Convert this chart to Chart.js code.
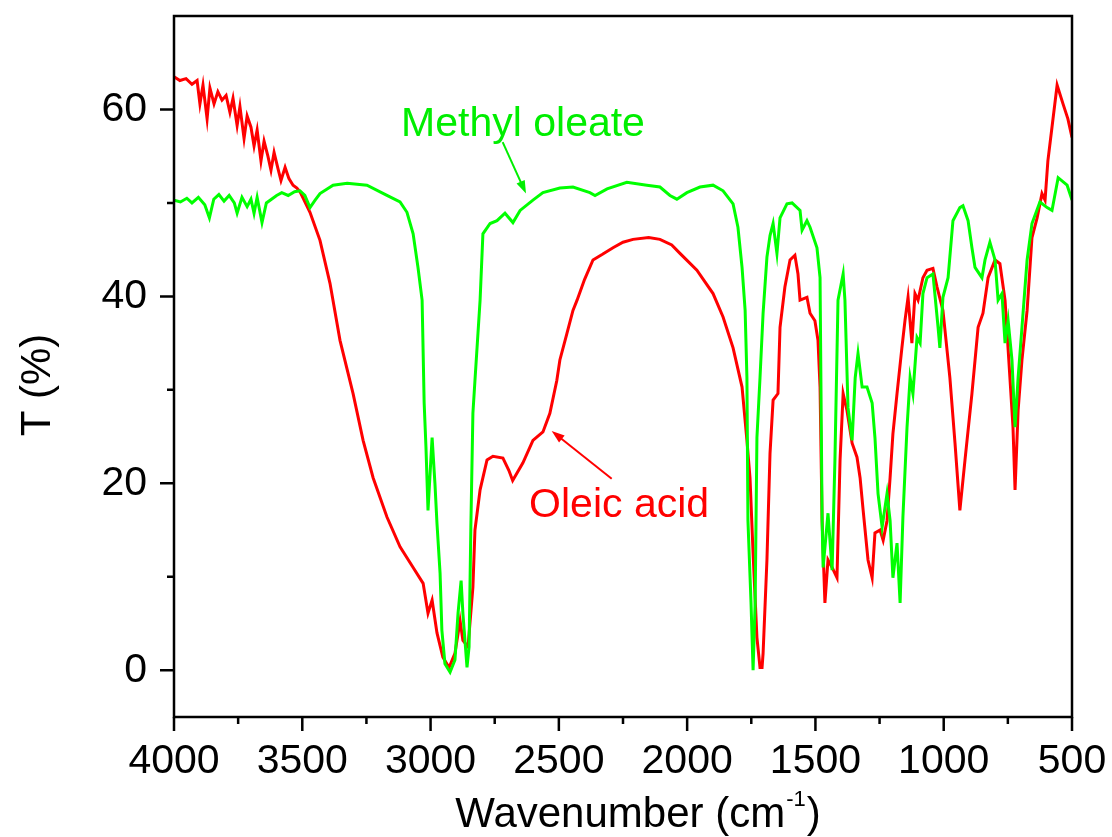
<!DOCTYPE html>
<html>
<head>
<meta charset="utf-8">
<script src="https://cdn.jsdelivr.net/npm/chart.js@4.4.1/dist/chart.umd.min.js"></script>
<style>
  html, body { margin: 0; padding: 0; background: #fff; }
</style>
</head>
<body>
<canvas id="ftirChart" width="1112" height="837"></canvas>
<script>
// axis ticks
const xTicks = [4000, 3500, 3000, 2500, 2000, 1500, 1000, 500];
const xMinorTicks = [3750, 3250, 2750, 2250, 1750, 1250, 750];
const yTicks = [0, 20, 40, 60];
const yMinorTicks = [10, 30, 50];

// Oleic acid (red)
const oleicWavenumber = [4000, 3977, 3953, 3930, 3910, 3899, 3887, 3871, 3860, 3844, 3829, 3813, 3797, 3782, 3770, 3754, 3743, 3727, 3715, 3700,
  3688, 3676, 3661, 3649, 3634, 3622, 3610, 3595, 3583, 3567, 3552, 3536, 3521, 3509, 3470, 3431, 3392, 3353, 3302, 3263,
  3224, 3170, 3119, 3068, 3029, 3010, 2994, 2975, 2952, 2928, 2905, 2885, 2874, 2854, 2835, 2827, 2807, 2780, 2757, 2718,
  2695, 2680, 2640, 2601, 2562, 2535, 2508, 2496, 2469, 2445, 2429, 2400, 2367, 2330, 2289, 2250, 2211, 2150, 2106, 2060,
  2028, 1962, 1899, 1860, 1821, 1786, 1767, 1755, 1743, 1728, 1716, 1708, 1704, 1689, 1677, 1665, 1646, 1638, 1619, 1599,
  1580, 1568, 1560, 1533, 1521, 1502, 1490, 1482, 1474, 1463, 1451, 1435, 1416, 1404, 1392, 1377, 1357, 1338, 1326, 1314,
  1295, 1279, 1268, 1248, 1236, 1221, 1209, 1198, 1182, 1163, 1151, 1139, 1124, 1112, 1100, 1081, 1065, 1042, 1026, 1003,
  976, 956, 937, 917, 890, 866, 847, 827, 800, 781, 761, 742, 730, 722, 710, 695, 675, 656, 636, 617,
  605, 594, 578, 558, 535, 516, 500];
const oleicT = [63.5, 63.1, 63.3, 62.7, 63.1, 60.6, 62.6, 59.0, 62.3, 60.6, 61.9, 61.0, 61.5, 59.7, 61.2, 58.3, 60.3, 56.9, 59.3, 58.1,
  56.1, 57.8, 54.5, 56.6, 55.0, 53.5, 55.4, 53.7, 52.4, 53.8, 52.6, 51.9, 51.6, 51.2, 49.0, 46.0, 41.4, 35.3, 29.6, 24.6,
  20.6, 16.4, 13.2, 11.0, 9.3, 6.1, 7.5, 4.0, 1.4, 0.3, 1.8, 5.3, 3.2, 2.5, 8.9, 15.0, 19.3, 22.5, 22.9, 22.7,
  21.4, 20.3, 22.2, 24.6, 25.5, 27.5, 31.0, 33.2, 36.0, 38.5, 39.6, 41.8, 43.9, 44.5, 45.2, 45.8, 46.1, 46.3, 46.1, 45.5,
  44.6, 42.8, 40.3, 37.8, 34.5, 30.3, 24.6, 20.6, 12.5, 3.5, 0.3, 0.3, 1.8, 11.8, 23.2, 28.9, 29.6, 36.7, 41.0, 43.9,
  44.4, 42.4, 39.6, 39.9, 38.2, 37.4, 35.3, 30.3, 16.0, 7.2, 11.8, 11.0, 9.9, 22.5, 29.6, 27.8, 24.3, 22.8, 20.6, 17.1,
  11.8, 9.9, 14.7, 15.0, 13.9, 16.0, 20.6, 25.3, 29.6, 34.5, 37.4, 39.9, 35.0, 40.3, 39.6, 42.0, 42.8, 43.0, 41.0, 38.5,
  31.3, 24.3, 17.1, 22.5, 29.6, 36.7, 38.2, 42.0, 43.9, 43.5, 39.6, 31.3, 26.0, 19.3, 27.8, 33.2, 38.5, 46.3, 48.4, 51.0,
  50.3, 54.5, 58.1, 62.6, 60.6, 59.0, 57.0];

// Methyl oleate (green)
const methylWavenumber = [4000, 3975, 3950, 3930, 3905, 3880, 3862, 3845, 3825, 3805, 3785, 3765, 3754, 3735, 3715, 3700, 3688, 3676, 3657, 3640,
  3620, 3600, 3580, 3555, 3530, 3509, 3490, 3470, 3450, 3431, 3380, 3325, 3248, 3170, 3119, 3092, 3068, 3049, 3033, 3025,
  3018, 3010, 2994, 2983, 2975, 2963, 2956, 2944, 2924, 2905, 2893, 2881, 2874, 2858, 2850, 2843, 2835, 2827, 2807, 2796,
  2768, 2741, 2710, 2679, 2651, 2601, 2562, 2496, 2445, 2379, 2359, 2312, 2235, 2157, 2106, 2067, 2040, 2001, 1950, 1899,
  1860, 1821, 1802, 1786, 1774, 1767, 1763, 1751, 1743, 1735, 1728, 1716, 1704, 1689, 1677, 1665, 1650, 1638, 1611, 1591,
  1560, 1552, 1533, 1521, 1494, 1482, 1474, 1470, 1451, 1435, 1424, 1412, 1392, 1385, 1373, 1357, 1345, 1334, 1318, 1299,
  1279, 1268, 1256, 1240, 1221, 1209, 1198, 1182, 1170, 1159, 1143, 1131, 1120, 1104, 1092, 1081, 1065, 1042, 1022, 1015,
  1003, 983, 964, 937, 925, 905, 890, 878, 851, 839, 820, 800, 788, 773, 761, 749, 734, 722, 710, 695,
  675, 656, 625, 597, 578, 554, 519, 500];
const methylT = [50.3, 50.1, 50.5, 50.0, 50.6, 49.8, 48.4, 50.4, 50.9, 50.2, 50.8, 50.0, 48.9, 50.6, 49.6, 50.4, 48.9, 50.6, 47.9, 50.0,
  50.4, 50.8, 51.1, 50.8, 51.2, 51.3, 50.8, 49.5, 50.3, 51.0, 51.9, 52.1, 51.9, 50.8, 50.1, 49.0, 46.7, 43.1, 39.6, 28.6,
  23.9, 17.1, 24.9, 20.0, 15.7, 10.4, 4.3, 0.7, -0.2, 1.1, 6.1, 9.6, 6.1, 0.3, 2.5, 15.3, 27.5, 31.0, 39.6, 46.7,
  47.8, 48.1, 48.9, 47.9, 49.2, 50.3, 51.1, 51.6, 51.7, 51.1, 50.8, 51.5, 52.2, 51.9, 51.7, 50.8, 50.4, 51.1, 51.7, 51.9,
  51.3, 49.9, 47.4, 43.1, 38.5, 31.3, 16.0, 7.2, 0.0, 7.2, 24.9, 31.3, 38.2, 44.2, 46.5, 47.8, 44.6, 48.4, 49.9, 50.0,
  49.2, 47.1, 48.1, 47.4, 45.2, 42.0, 16.0, 11.0, 16.8, 10.7, 22.5, 39.6, 42.4, 39.6, 28.1, 24.6, 31.3, 33.9, 30.3, 30.3,
  28.6, 24.9, 18.9, 15.3, 18.9, 16.0, 9.9, 13.6, 7.2, 16.4, 26.0, 31.3, 29.6, 35.6, 35.0, 40.3, 42.0, 42.4, 36.7, 34.5,
  39.9, 42.0, 48.1, 49.5, 49.7, 48.1, 45.2, 43.1, 42.0, 43.9, 45.8, 43.9, 39.6, 40.3, 35.0, 37.4, 33.2, 26.0, 31.3, 36.7,
  43.9, 47.8, 50.1, 49.5, 49.2, 52.7, 51.9, 50.3];

const FONT = '"Liberation Sans", Arial, sans-serif';

// text labels with arrows, in data units
const notes = [
  { text: 'Methyl oleate', color: '#00ee00', at: [3115, 57.2], from: [2719, 56.5], to: [2628, 51.0] },
  { text: 'Oleic acid', color: '#ff0000', at: [2616, 16.4], from: [2294, 20.5], to: [2528, 25.6] }
];

const toPoints = (xs, ys) => xs.map((x, i) => ({ x: x, y: ys[i] }));

const noPad = s => { s.paddingTop = 0; s.paddingBottom = 0; s.paddingLeft = 0; s.paddingRight = 0; };

const frameTicks = {
  id: 'frameTicks',
  afterDatasetsDraw(chart) {
    const ctx = chart.ctx;
    const a = chart.chartArea;
    const xs = chart.scales.x;
    const ys = chart.scales.y;
    ctx.save();
    ctx.strokeStyle = '#000';
    ctx.lineWidth = 2.5;
    ctx.strokeRect(a.left, a.top, a.right - a.left, a.bottom - a.top);
    ctx.beginPath();
    xTicks.forEach(v => { const p = xs.getPixelForValue(v); ctx.moveTo(p, a.bottom); ctx.lineTo(p, a.bottom + 14); });
    xMinorTicks.forEach(v => { const p = xs.getPixelForValue(v); ctx.moveTo(p, a.bottom); ctx.lineTo(p, a.bottom + 7); });
    yTicks.forEach(v => { const p = ys.getPixelForValue(v); ctx.moveTo(a.left, p); ctx.lineTo(a.left - 14, p); });
    yMinorTicks.forEach(v => { const p = ys.getPixelForValue(v); ctx.moveTo(a.left, p); ctx.lineTo(a.left - 7, p); });
    ctx.stroke();

    // notes + arrows
    notes.forEach(n => {
      ctx.fillStyle = n.color;
      ctx.strokeStyle = n.color;
      ctx.font = '41px ' + FONT;
      ctx.textAlign = 'left';
      ctx.textBaseline = 'alphabetic';
      ctx.fillText(n.text, xs.getPixelForValue(n.at[0]), ys.getPixelForValue(n.at[1]));
      const x1 = xs.getPixelForValue(n.from[0]), y1 = ys.getPixelForValue(n.from[1]);
      const x2 = xs.getPixelForValue(n.to[0]), y2 = ys.getPixelForValue(n.to[1]);
      const ang = Math.atan2(y2 - y1, x2 - x1);
      ctx.lineWidth = 2;
      ctx.beginPath();
      ctx.moveTo(x1, y1);
      ctx.lineTo(x2 - 8 * Math.cos(ang), y2 - 8 * Math.sin(ang));
      ctx.stroke();
      ctx.beginPath();
      ctx.moveTo(x2, y2);
      ctx.lineTo(x2 - 13 * Math.cos(ang) + 4.5 * Math.sin(ang), y2 - 13 * Math.sin(ang) - 4.5 * Math.cos(ang));
      ctx.lineTo(x2 - 13 * Math.cos(ang) - 4.5 * Math.sin(ang), y2 - 13 * Math.sin(ang) + 4.5 * Math.cos(ang));
      ctx.closePath();
      ctx.fill();
    });

    // axis titles
    ctx.fillStyle = '#000';
    ctx.textBaseline = 'alphabetic';
    ctx.textAlign = 'left';
    ctx.font = '42px ' + FONT;
    const t1 = 'Wavenumber (cm';
    const w1 = ctx.measureText(t1).width;
    ctx.font = '22px ' + FONT;
    const sup = '-1';
    const ws = ctx.measureText(sup).width;
    ctx.font = '42px ' + FONT;
    const wClose = ctx.measureText(')').width;
    const total = w1 + ws + 2 + wClose;
    const tx = (a.left + a.right) / 2 + 15 - total / 2;
    const ty = 827;
    ctx.fillText(t1, tx, ty);
    ctx.font = '22px ' + FONT;
    ctx.fillText(sup, tx + w1 + 1, ty - 21);
    ctx.font = '42px ' + FONT;
    ctx.fillText(')', tx + w1 + ws + 2, ty);

    ctx.translate(50, 385);
    ctx.rotate(-Math.PI / 2);
    ctx.textAlign = 'center';
    ctx.fillText('T (%)', 0, 0);
    ctx.restore();
  }
};

new Chart(document.getElementById('ftirChart'), {
  type: 'line',
  data: {
    datasets: [
      {
        label: 'Methyl oleate',
        data: toPoints(methylWavenumber, methylT),
        borderColor: '#00ff00',
        borderWidth: 3,
        pointRadius: 0,
        tension: 0,
        fill: false
      },
      {
        label: 'Oleic acid',
        data: toPoints(oleicWavenumber, oleicT),
        borderColor: '#ff0000',
        borderWidth: 3,
        pointRadius: 0,
        tension: 0,
        fill: false
      }
    ]
  },
  options: {
    responsive: false,
    animation: false,
    devicePixelRatio: 1,
    layout: { padding: { left: 0, right: 40, top: 16, bottom: 0 } },
    plugins: {
      legend: { display: false },
      tooltip: { enabled: false }
    },
    scales: {
      x: {
        type: 'linear',
        min: 500,
        max: 4000,
        reverse: true,
        afterBuildTicks: s => { s.ticks = xTicks.map(v => ({ value: v })); },
        afterFit: s => { s.height = 120; noPad(s); },
        grid: { display: true, drawOnChartArea: false, drawTicks: false },
        border: { display: false },
        ticks: {
          color: '#000', font: { family: FONT, size: 41 }, padding: 20, maxRotation: 0, autoSkip: false,
          callback: v => String(v)
        }
      },
      y: {
        type: 'linear',
        min: -5,
        max: 70,
        afterBuildTicks: s => { s.ticks = yTicks.map(v => ({ value: v })); },
        afterFit: s => { s.width = 174; noPad(s); },
        grid: { display: true, drawOnChartArea: false, drawTicks: false },
        border: { display: false },
        ticks: { color: '#000', font: { family: FONT, size: 41 }, padding: 27, callback: v => String(v) }
      }
    }
  },
  plugins: [frameTicks]
});
</script>
</body>
</html>
